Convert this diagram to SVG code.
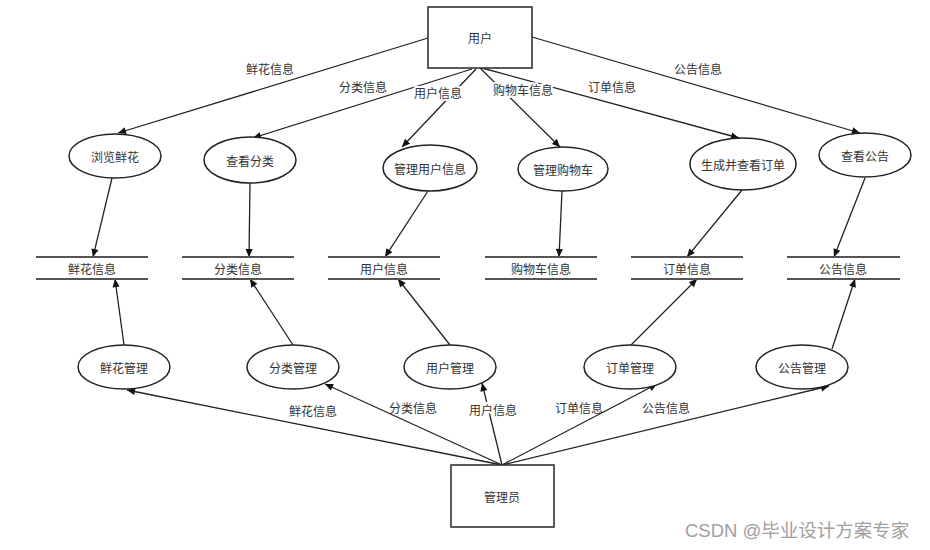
<svg xmlns="http://www.w3.org/2000/svg" width="930" height="550" viewBox="0 0 930 550">
<defs>
<marker id="arr" viewBox="0 0 10 10" refX="10" refY="5" markerWidth="9" markerHeight="8" markerUnits="userSpaceOnUse" orient="auto">
<path d="M0,0.5 L10,5 L0,9.5 z" fill="#111"/>
</marker>
</defs>
<style>
text{font-family:"Noto Sans CJK SC","Noto Sans",sans-serif;font-size:12px;fill:#333;text-anchor:middle;dominant-baseline:central}
.box{fill:#fff;stroke:#333;stroke-width:1.6}
.proc{fill:#fff;stroke:#222;stroke-width:1.5}
.store{stroke:#555;stroke-width:2.2}
.conn line{stroke:#222;stroke-width:1.3;marker-end:url(#arr)}
.lbl{stroke:#fff;stroke-width:4;paint-order:stroke;stroke-linejoin:round}
.wm{font-family:"Liberation Sans","Noto Sans CJK SC",sans-serif;font-size:18.5px;fill:#a0a0a0;text-anchor:start}
</style>
<rect width="930" height="550" fill="#fff"/>
<g id="connectors" class="conn">
<line x1="428" y1="38" x2="118" y2="133"/>
<line x1="472" y1="69" x2="253" y2="138"/>
<line x1="476" y1="69" x2="402" y2="147"/>
<line x1="480" y1="68" x2="560" y2="147"/>
<line x1="482" y1="68" x2="739" y2="138"/>
<line x1="532" y1="37" x2="860" y2="133"/>
<line x1="112" y1="178" x2="93" y2="257"/>
<line x1="250" y1="183" x2="249" y2="257"/>
<line x1="428" y1="191" x2="385" y2="257"/>
<line x1="562" y1="191" x2="559" y2="257"/>
<line x1="742" y1="190" x2="687" y2="257"/>
<line x1="865" y1="178" x2="834" y2="257"/>
<line x1="124" y1="345" x2="115" y2="279"/>
<line x1="293" y1="345" x2="250" y2="279"/>
<line x1="450" y1="345" x2="398" y2="279"/>
<line x1="631" y1="345" x2="697" y2="279"/>
<line x1="832" y1="349" x2="855" y2="279"/>
<line x1="502" y1="465" x2="127" y2="390"/>
<line x1="502" y1="465" x2="325" y2="384"/>
<line x1="502" y1="465" x2="482" y2="383"/>
<line x1="502" y1="465" x2="657" y2="384"/>
<line x1="502" y1="465" x2="829" y2="386"/>
<g id="labels">
<text x="270" y="68">鲜花信息</text>
<text x="363" y="86">分类信息</text>
<text class="lbl" x="438" y="92">用户信息</text>
<text class="lbl" x="523" y="89">购物车信息</text>
<text x="612" y="86">订单信息</text>
<text x="698" y="68">公告信息</text>
<text x="313" y="410">鲜花信息</text>
<text x="413" y="407">分类信息</text>
<text class="lbl" x="493" y="409">用户信息</text>
<text x="579" y="407">订单信息</text>
<text x="666" y="407">公告信息</text>
</g>
</g>
<g id="user"><rect class="box" x="428" y="7" width="104" height="61"/><text x="480" y="37">用户</text></g>
<g id="admin"><rect class="box" x="451" y="465" width="103" height="62"/><text x="502" y="496">管理员</text></g>
<g id="p-browse"><ellipse class="proc" cx="115" cy="156" rx="46" ry="22"/><text x="115" y="156">浏览鲜花</text></g>
<g id="p-category"><ellipse class="proc" cx="250" cy="160" rx="46" ry="23"/><text x="250" y="160">查看分类</text></g>
<g id="p-userinfo"><ellipse class="proc" cx="430" cy="168" rx="47" ry="23"/><text x="430" y="168">管理用户信息</text></g>
<g id="p-cart"><ellipse class="proc" cx="563" cy="169" rx="45" ry="22"/><text x="563" y="169">管理购物车</text></g>
<g id="p-order"><ellipse class="proc" cx="743" cy="164" rx="53" ry="26"/><text x="743" y="164">生成并查看订单</text></g>
<g id="p-notice"><ellipse class="proc" cx="865" cy="155" rx="46" ry="22"/><text x="865" y="155">查看公告</text></g>
<g id="s-flower"><line class="store" x1="36" y1="257" x2="148" y2="257"/><line class="store" x1="36" y1="279" x2="148" y2="279"/><text x="92" y="268">鲜花信息</text></g>
<g id="s-category"><line class="store" x1="182" y1="257" x2="294" y2="257"/><line class="store" x1="182" y1="279" x2="294" y2="279"/><text x="238" y="268">分类信息</text></g>
<g id="s-user"><line class="store" x1="328" y1="257" x2="440" y2="257"/><line class="store" x1="328" y1="279" x2="440" y2="279"/><text x="384" y="268">用户信息</text></g>
<g id="s-cart"><line class="store" x1="485" y1="257" x2="597" y2="257"/><line class="store" x1="485" y1="279" x2="597" y2="279"/><text x="541" y="268">购物车信息</text></g>
<g id="s-order"><line class="store" x1="631" y1="257" x2="743" y2="257"/><line class="store" x1="631" y1="279" x2="743" y2="279"/><text x="687" y="268">订单信息</text></g>
<g id="s-notice"><line class="store" x1="787" y1="257" x2="900" y2="257"/><line class="store" x1="787" y1="279" x2="900" y2="279"/><text x="843" y="268">公告信息</text></g>
<g id="m-flower"><ellipse class="proc" cx="124" cy="367" rx="46" ry="22"/><text x="124" y="367">鲜花管理</text></g>
<g id="m-category"><ellipse class="proc" cx="293" cy="367" rx="46" ry="22"/><text x="293" y="367">分类管理</text></g>
<g id="m-user"><ellipse class="proc" cx="450" cy="367" rx="46" ry="22"/><text x="450" y="367">用户管理</text></g>
<g id="m-order"><ellipse class="proc" cx="630" cy="367" rx="46" ry="22"/><text x="630" y="367">订单管理</text></g>
<g id="m-notice"><ellipse class="proc" cx="802" cy="367" rx="46" ry="22"/><text x="802" y="367">公告管理</text></g>
<text class="wm" x="685" y="530">CSDN @毕业设计方案专家</text>
</svg>
